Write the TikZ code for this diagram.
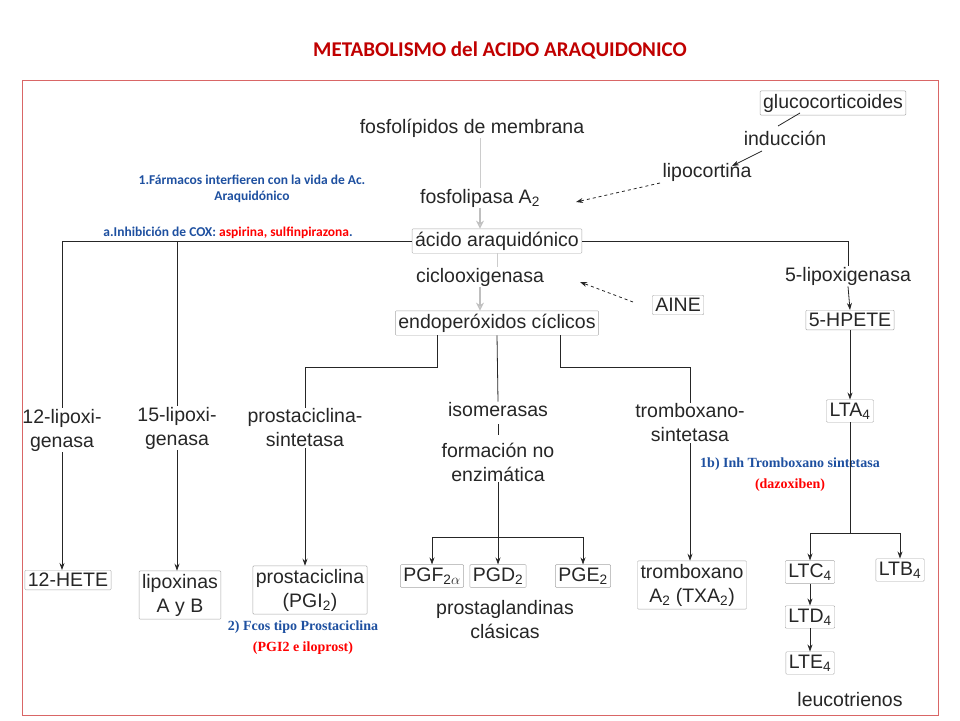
\documentclass[tikz,border=0pt]{standalone}
\usepackage{fontspec}
\setmainfont{Liberation Sans}
\newfontfamily\calfont{Carlito}
\newfontfamily\timesfont{Liberation Serif}
\usepackage{tikz}
\usetikzlibrary{positioning, calc, arrows.meta}
\definecolor{noteblue}{RGB}{30,80,160}
\definecolor{titlered}{RGB}{192,0,0}
\newcommand{\sbs}[1]{\textsubscript{#1}}

\begin{document}
\begin{tikzpicture}[
    x=1pt, y=-1pt,
    >={Stealth[length=7pt, width=5pt]},
    txt/.style={align=center, font=\fontsize{19.5}{24}\selectfont, text=black!85, inner sep=1pt},
    box/.style={txt, draw=black!35, rounded corners=1pt, inner sep=3pt},
    flow/.style={draw=black!85, thick},
    grayarrow/.style={draw=black!25, very thick, -{Stealth[length=8pt, width=8pt, open]}},
    note/.style={align=center, font=\calfont\bfseries\fontsize{13.5}{16}\selectfont, text=noteblue},
    tnote/.style={align=center, font=\timesfont\bfseries\fontsize{14}{16}\selectfont}]

    \useasboundingbox (0,0) rectangle (960,720);
    \node[font=\calfont\bfseries\fontsize{21}{24}\selectfont, text=titlered] (title) at (500,50) {METABOLISMO del ACIDO ARAQUIDONICO};
    \draw[draw=titlered!60, thin] (22,80) rectangle (938,715);

    %%% Top part
    \node[box] (gluco) at (833,103) {glucocorticoides};
    \node[txt] (induc) at (785,138) {inducción};
    \node[txt] (lipocort) at (707,172) {lipocortina};
    \node[txt] (fosfomem) at (472,128) {fosfolípidos de membrana};
    \node[txt] (fosfolip) at (480,198) {fosfolipasa A\sbs{2}};
    \node[box] (acido) at (497,241) {ácido araquidónico};
    \node[txt] (cox) at (480,277) {ciclooxigenasa};
    \node[box] (aine) at (678,305) {AINE};
    \node[box] (endo) at (497,323) {endoperóxidos cíclicos};
    \node[txt] (lox5) at (848,276) {5-lipoxigenasa};
    \node[box] (hpete) at (850,320) {5-HPETE};
    \node[box] (lta) at (850,411) {LTA\sbs{4}};

    %%% Middle row
    \node[txt] (lox12) at (62,430) {12-lipoxi-\\genasa};
    \node[txt] (lox15) at (177,428) {15-lipoxi-\\genasa};
    \node[txt] (pcsint) at (305,428) {prostaciclina-\\sintetasa};
    \node[txt] (isom) at (498,410) {isomerasas};
    \node[txt] (formac) at (498,462) {formación no\\enzimática};
    \node[txt] (txsint) at (690,423) {tromboxano-\\sintetasa};

    %%% Bottom row
    \node[box] (hete) at (68,580) {12-HETE};
    \node[box] (lipox) at (180,595) {lipoxinas\\A y B};
    \node[box] (pgi) at (310,590) {prostaciclina\\(PGI\sbs{2})};
    \node[box] (pgf) at (432,576) {PGF\sbs{2$\alpha$}};
    \node[box] (pgd) at (498,576) {PGD\sbs{2}};
    \node[box] (pge) at (583,576) {PGE\sbs{2}};
    \node[txt] (pgclas) at (505,620) {prostaglandinas\\clásicas};
    \node[box] (txa) at (692,585) {tromboxano\\A\sbs{2} (TXA\sbs{2})};
    \node[box] (ltc) at (810,572) {LTC\sbs{4}};
    \node[box] (ltb) at (900,570) {LTB\sbs{4}};
    \node[box] (ltd) at (810,617) {LTD\sbs{4}};
    \node[box] (lte) at (810,663) {LTE\sbs{4}};
    \node[txt] (leuco) at (850,700) {leucotrienos};

    %%% Notes
    \node[note] (note1) at (252,189) {1.Fármacos interfieren con la vida de Ac.\\Araquidónico};
    \node[note] (note2) at (228,233) {a.Inhibición de COX: \textcolor{red}{aspirina, sulfinpirazona}.};
    \node[tnote, text=noteblue] (note3) at (790,464) {1b) Inh Tromboxano sintetasa};
    \node[tnote, text=red] (note4) at (790,485) {(dazoxiben)};
    \node[tnote, text=noteblue] (note5) at (303,627) {2) Fcos tipo Prostaciclina};
    \node[tnote, text=red] (note6) at (303,648) {(PGI2 e iloprost)};

    %%% Relations
    \coordinate (gl) at (800,113);
    \coordinate (in) at (762,151);
    \coordinate (lc) at (660,183);
    \coordinate (ai) at (633,302);
    \coordinate (isbar) at (498,424);
    \draw[flow] (gl) -- (778,126);
    \draw[flow, ->] (in) -- (732,166);
    \draw[flow, dashed, ->] (lc) -- (576,202);
    \draw[flow, dashed, ->] (ai) -- (580,282);
    \draw[draw=black!20, thick] (fosfolip.north |- fosfomem.south) -- (fosfolip.north);
    \draw[grayarrow] (fosfolip) -- (fosfolip |- acido.north);
    \draw[grayarrow] (cox) -- (cox |- endo.north);
    \draw[draw=black!20, thick] (acido.south) -- (cox.north -| acido.south);

    \draw[flow] (acido.west) -- (acido.west -| lox12.north) -- (lox12.north);
    \draw[flow] (acido.west -| lox15.north) -- (lox15.north);
    \draw[flow] (acido.east) -- (acido.east -| lox5.north) -- (lox5.north);
    \draw[flow, ->] (lox5.south) -- (hpete.north);
    \draw[flow, ->] (hpete.south) -- (lta.north);

    \draw[flow] ($(endo.south)+(-60,0)$) |- (305,367) -- (pcsint.north);
    \draw[flow] (endo.south) -- (isom.north);
    \draw[flow] (isbar) -- ++(0,11);
    \draw[flow] ($(endo.south)+(63,0)$) |- (690,367) -- (txsint.north);

    \draw[flow, ->] (lox12.south) -- (lox12.south |- hete.north);
    \draw[flow, ->] (lox15.south) -- (lox15.south |- lipox.north);
    \draw[flow, ->] (pcsint.south) -- (pcsint.south |- pgi.north);
    \draw[flow, ->] (txsint.south) -- (txsint.south |- txa.north);
    \draw[flow, ->] (formac.south) -- (pgd.north);
    \draw[flow, ->] (498,537) -| (pgf.north);
    \draw[flow, ->] (498,537) -| (pge.north);
    \draw[flow] (lta.south) -- (lta.south |- 0,533);
    \draw[flow, ->] (lta.south |- 0,533) -| (ltc.north);
    \draw[flow, ->] (lta.south |- 0,533) -| (ltb.north);
    \draw[flow, ->] (ltc) -- (ltd);
    \draw[flow, ->] (ltd) -- (lte);
\end{tikzpicture}
\end{document}
